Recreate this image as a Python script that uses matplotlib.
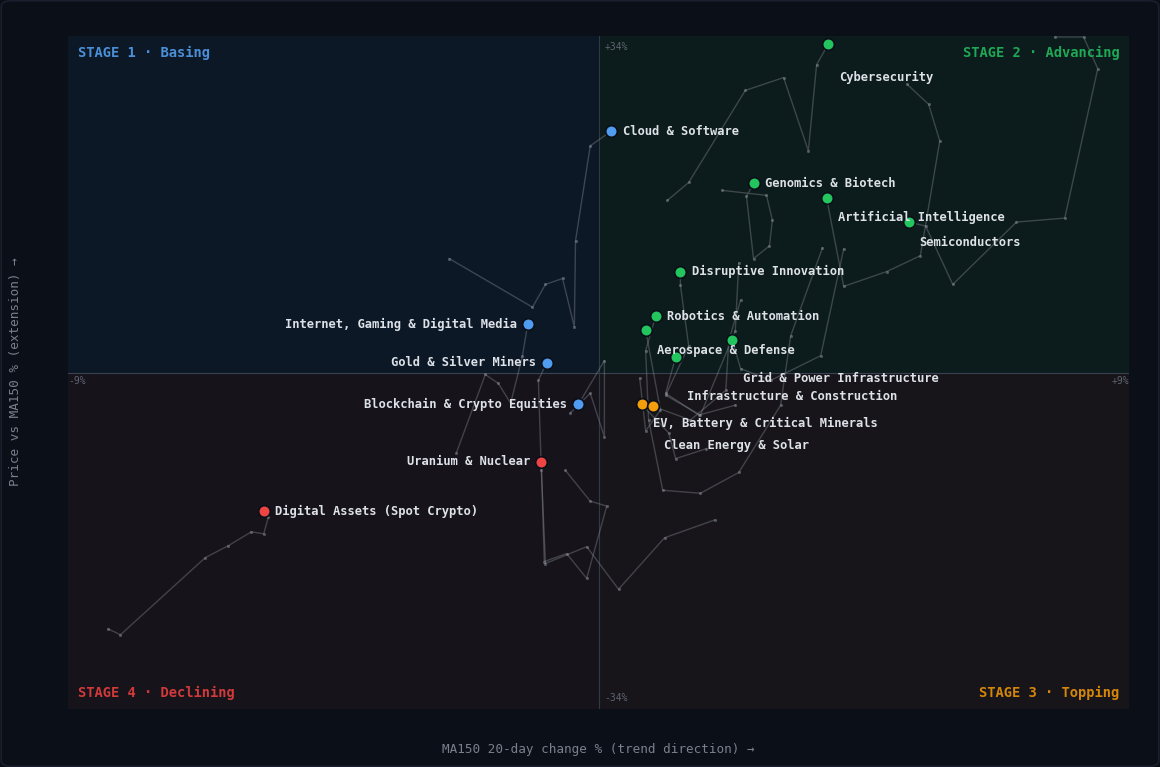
import matplotlib
matplotlib.use("Agg")
import matplotlib.pyplot as plt
from matplotlib.patches import Rectangle, FancyBboxPatch

plt.rcParams["font.family"] = ["DejaVu Sans Mono"]

XLIM = 9.0
YLIM = 34.0

names = [
    "Cybersecurity", "Cloud & Software", "Genomics & Biotech", "Artificial Intelligence",
    "Semiconductors", "Disruptive Innovation", "Internet, Gaming & Digital Media",
    "Robotics & Automation", "Aerospace & Defense", "Grid & Power Infrastructure",
    "Infrastructure & Construction", "Gold & Silver Miners", "Blockchain & Crypto Equities",
    "EV, Battery & Critical Minerals", "Clean Energy & Solar", "Uranium & Nuclear",
    "Digital Assets (Spot Crypto)",
]
stages = [2, 1, 2, 2, 2, 2, 1, 2, 2, 2, 2, 1, 1, 3, 3, 4, 4]

trail_x = [
    [1.17, 1.53, 2.49, 3.14, 3.56, 3.70, 3.90],
    [-2.53, -1.12, -0.90, -0.61, -0.41, -0.39, -0.14, 0.22],
    [2.10, 2.85, 2.95, 2.90, 2.63, 2.51, 2.63],
    [5.24, 5.60, 5.79, 5.46, 4.89, 4.16, 3.87],
    [7.74, 8.23, 8.47, 7.91, 7.09, 6.01, 5.55, 5.26],
    [2.38, 2.32, 1.73, 1.14, 1.53, 1.39, 1.39],
    [-2.41, -1.92, -1.70, -1.49, -1.29, -1.20],
    [3.80, 3.26, 3.09, 2.38, 1.73, 1.09, 0.85, 0.80, 0.97],
    [0.70, 0.80, 1.05, 0.80],
    [4.16, 3.77, 2.92, 2.41, 2.27],
    [2.32, 1.70, 1.14, 1.31],
    [1.97, 1.12, 0.34, -0.20, -0.90, -0.97, -1.02, -0.88],
    [-0.48, -0.14, 0.10, 0.10, -0.34],
    [1.83, 1.31, 1.19, 0.73],
    [2.41, 2.21, 2.16, 1.56, 0.92],
    [-0.56, -0.14, 0.14, -0.20, -0.54, -0.92, -0.97],
    [-8.32, -8.11, -6.67, -6.28, -5.89, -5.68, -5.60, -5.68],
]
trail_y = [
    [17.4, 19.2, 28.5, 29.8, 22.4, 31.1, 33.2],
    [11.5, 6.6, 8.9, 9.5, 4.6, 13.3, 22.9, 24.4],
    [18.4, 17.9, 15.4, 12.8, 11.5, 17.8, 19.1],
    [29.1, 27.1, 23.4, 11.8, 10.2, 8.7, 17.6],
    [33.9, 33.9, 30.7, 15.6, 15.2, 8.9, 14.8, 15.2],
    [11.1, 4.2, -4.3, -2.3, 2.7, 8.8, 10.2],
    [-8.1, -0.2, -1.1, -3.1, 1.7, 4.9],
    [12.6, 3.7, -3.3, -10.1, -12.2, -11.9, -4.8, 2.2, 5.7],
    [-0.6, -5.9, -3.8, 4.3],
    [12.5, 1.7, -0.8, 0.4, 3.3],
    [-3.3, -4.3, -2.1, 1.6],
    [-14.9, -16.7, -21.9, -17.6, -19.3, -9.9, -0.8, 1.0],
    [-4.1, -2.1, -6.5, 1.2, -3.2],
    [-7.7, -8.7, -6.1, -3.2],
    [7.3, 3.2, -1.8, -4.8, -3.4],
    [-9.9, -13.0, -13.5, -20.8, -18.3, -19.1, -9.0],
    [-25.9, -26.5, -18.7, -17.5, -16.1, -16.3, -14.6, -14.0],
]
# label offsets in points (dx, dy) relative to the current dot
label_offsets = [
    (8, -24), (8, 0), (8, 0), (8, -14), (8, -15), (8, 0), (-8, 0), (8, 0),
    (8, -15), (8, -28), (8, -29), (-8, 0), (-8, 0), (8, -14), (8, -28), (-8, 0), (8, 0),
]

stage_colors = {1: "#4f9cf0", 2: "#22c55e", 3: "#f59e0b", 4: "#ef4444"}
stage_text = {1: "#4a8fd8", 2: "#1fa855", 3: "#d4860a", 4: "#d03a3a"}

fig = plt.figure(figsize=(11.6, 7.67), dpi=100)
fig.patch.set_facecolor("#0a0e15")
frame = FancyBboxPatch((0.001, 0.001), 0.998, 0.998, boxstyle="round,pad=0,rounding_size=0.008",
                       transform=fig.transFigure, facecolor="#0b0f18", edgecolor="#1c2230", lw=1, zorder=-10)
fig.patches.append(frame)
ax = fig.add_axes([68 / 1160, 1 - 709 / 767, 1061 / 1160, 673 / 767])
ax.set_xlim(-XLIM, XLIM)
ax.set_ylim(-YLIM, YLIM)
ax.set_facecolor("#0b0f18")
for x0, y0, c in [(-XLIM, 0, "#0d1826"), (0, 0, "#0c1b1b"), (-XLIM, -YLIM, "#16131b"), (0, -YLIM, "#17151a")]:
    ax.add_patch(Rectangle((x0, y0), XLIM, YLIM, facecolor=c, edgecolor="none", zorder=0))
ax.axhline(0, color="#3a4150", lw=0.8, zorder=1)
ax.axvline(0, color="#2e3a44", lw=0.8, zorder=1)
for s in ax.spines.values():
    s.set_visible(False)
ax.set_xticks([])
ax.set_yticks([])

for tx, ty in zip(trail_x, trail_y):
    ax.plot(tx, ty, color="#8a8f99", lw=1.0, alpha=0.38, zorder=2)
    ax.scatter(tx[:-1], ty[:-1], s=5, color="#9aa0aa", alpha=0.45, zorder=2, lw=0)

for name, st, tx, ty, off in zip(names, stages, trail_x, trail_y, label_offsets):
    ax.scatter(tx[-1], ty[-1], s=70, color=stage_colors[st], edgecolor="#0b0f18", lw=1.2, zorder=4)
    ax.annotate(name, (tx[-1], ty[-1]), xytext=off, textcoords="offset points",
                ha="left" if off[0] > 0 else "right", va="center", fontsize=8.7,
                fontweight="bold", color="#dde1e8", zorder=5)

kw = dict(transform=ax.transAxes, fontsize=9.9, fontweight="bold")
ax.text(0.009, 0.975, "STAGE 1 · Basing", color=stage_text[1], ha="left", va="center", **kw)
ax.text(0.991, 0.975, "STAGE 2 · Advancing", color=stage_text[2], ha="right", va="center", **kw)
ax.text(0.009, 0.024, "STAGE 4 · Declining", color=stage_text[4], ha="left", va="center", **kw)
ax.text(0.991, 0.024, "STAGE 3 · Topping", color=stage_text[3], ha="right", va="center", **kw)

tk = dict(fontsize=7, color="#5d6470")
ax.text(0.1, YLIM - 0.6, "+34%", ha="left", va="top", **tk)
ax.text(0.1, -YLIM + 0.6, "-34%", ha="left", va="bottom", **tk)
ax.text(-XLIM, -0.4, "-9%", ha="left", va="top", **tk)
ax.text(XLIM, -0.4, "+9%", ha="right", va="top", **tk)

fig.text(598 / 1160, 1 - 750 / 767, "MA150 20-day change % (trend direction) →", ha="center", va="center",
         fontsize=9.1, color="#7a808c")
fig.text(16 / 1160, 1 - 372 / 767, "Price vs MA150 % (extension) →", ha="center", va="center",
         rotation=90, fontsize=9.1, color="#7a808c")

fig.savefig("out.png", dpi=100, facecolor=fig.get_facecolor())
